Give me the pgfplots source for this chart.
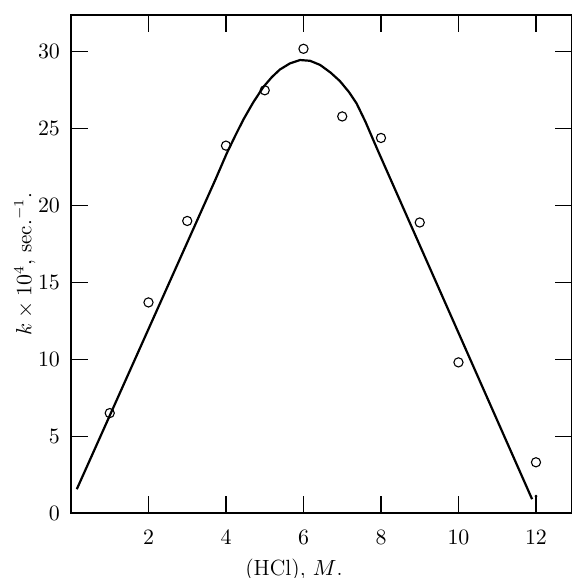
\documentclass[border=0pt]{standalone}
\usepackage{pgfplots}
\pgfplotsset{compat=1.18}

\begin{document}
\begin{tikzpicture}
\begin{axis}[
  scale only axis, width=250.5pt, height=249pt,
  xmin=0, xmax=12.93, ymin=0, ymax=32.4,
  xtick={2,4,6,8,10,12}, ytick={0,5,10,15,20,25,30},
  tick align=inside, major tick length=8.5pt,
  tick style={line width=0.6pt, black},
  axis line style={line width=0.8pt},
  tick label style={font=\fontsize{11}{13}\selectfont},
  xticklabel style={yshift=-5pt},
  yticklabel style={xshift=-2pt},
  xlabel={(HCl), $M$.},
  ylabel={$k \times 10^4$, sec.$^{-1}$.},
  xlabel style={font=\fontsize{11}{13}\selectfont, at={(axis description cs:0.445,-0.114)}, anchor=center},
  ylabel style={font=\fontsize{10.5}{12}\selectfont, at={(axis description cs:-0.092,0.5)}, anchor=center},
  clip=false]
  % fitted curve
  \addplot[black, line width=1.1pt, line join=round] coordinates {
    (0.15,1.55) (3.72,21.65) (4.02,23.4) (4.25,24.6) (4.45,25.6) (4.7,26.7)
    (4.96,27.7) (5.18,28.35) (5.39,28.85) (5.65,29.25) (5.91,29.47) (6.17,29.42)
    (6.43,29.15) (6.7,28.65) (6.94,28.1) (7.17,27.4) (7.37,26.65) (7.6,25.45)
    (7.89,23.75) (11.9,0.9)};
  % measured points
  \addplot[only marks, mark=o, mark size=2.3pt, mark options={line width=0.55pt, fill=white}] coordinates {
    (1,6.5) (2,13.7) (3,19.0) (4,23.9) (5,27.5) (6,30.2) (7,25.8)
    (8,24.4) (9,18.9) (10,9.8) (12,3.3)};
  \addplot[only marks, mark=*, mark size=0.5pt] coordinates {(12,1.1)};
  \coordinate (bl) at (axis description cs:-0.1417,-0.1305);
  \coordinate (tr) at (axis description cs:1,1.0301);
\end{axis}
\pgfresetboundingbox
\path[use as bounding box] (bl) rectangle (tr);
\end{tikzpicture}
\end{document}
